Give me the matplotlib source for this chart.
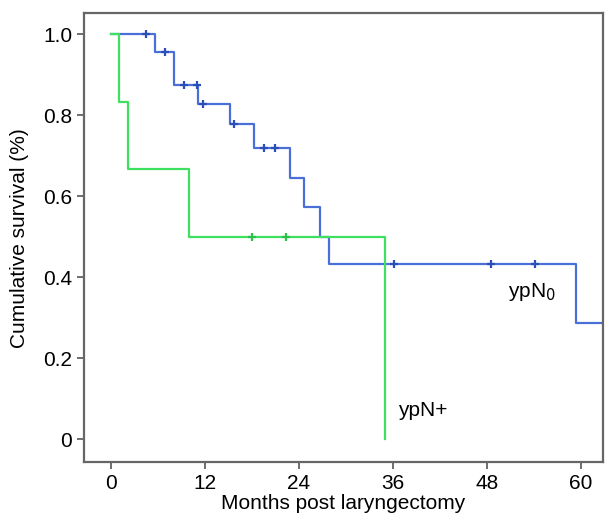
import matplotlib.pyplot as plt

plt.rcParams['font.family'] = ['Liberation Sans', 'DejaVu Sans']

# ypN0 group (Kaplan-Meier steps)
n0_times = [0, 5.6, 8.0, 11.1, 15.2, 18.3, 22.8, 24.7, 26.7, 27.8, 59.4, 64]
n0_surv = [1.0, 0.957, 0.875, 0.828, 0.778, 0.719, 0.646, 0.574, 0.50, 0.432, 0.288, 0.288]
n0_cens_t = [4.5, 6.9, 9.3, 11.0, 11.8, 15.7, 19.5, 21.0, 36.1, 48.5, 54.2]
n0_cens_s = [1.0, 0.957, 0.875, 0.875, 0.828, 0.778, 0.719, 0.719, 0.432, 0.432, 0.432]

# ypN+ group
np_times = [0, 1.0, 2.1, 9.9, 35.0]
np_surv = [1.0, 0.833, 0.667, 0.5, 0.0]
np_cens_t = [18.0, 22.4]
np_cens_s = [0.5, 0.5]

x_ticks = [0, 12, 24, 36, 48, 60]
y_ticks = [0, 0.2, 0.4, 0.6, 0.8, 1.0]
y_ticklabels = ['0', '0.2', '0.4', '0.6', '0.8', '1.0']

blue = '#4a6fd6'
green = '#3fe060'

fig = plt.figure(figsize=(6.06, 5.15), dpi=100)
ax = fig.add_axes([0.1394, 0.1029, 0.8552, 0.8713])

ax.step(n0_times, n0_surv, where='post', color=blue, lw=1.6)
ax.plot(n0_cens_t, n0_cens_s, '+', color='#2b4fb8', ms=5.5, mew=1.6)
ax.step(np_times, np_surv, where='post', color=green, lw=1.6)
ax.plot(np_cens_t, np_cens_s, '+', color='#2ec04d', ms=5.5, mew=1.6)

ax.text(50.7, 0.364, 'ypN$_0$', fontsize=15, va='center', ha='left')
ax.text(36.6, 0.072, 'ypN+', fontsize=15, va='center', ha='left')

ax.set_xlim(-3.4, 62.8)
ax.set_ylim(-0.056, 1.052)
ax.set_xticks(x_ticks)
ax.set_yticks(y_ticks)
ax.set_yticklabels(y_ticklabels)
ax.tick_params(labelsize=15, length=4.8, width=1.2, color='#555555', direction='out', pad=4)

for s in ax.spines.values():
    s.set_color('#666666')
    s.set_linewidth(1.6)

ax.set_xlabel('Months post laryngectomy', fontsize=15, labelpad=0.5)
ax.set_ylabel('Cumulative survival (%)', fontsize=15, labelpad=10)

fig.savefig('out.png', dpi=100)
